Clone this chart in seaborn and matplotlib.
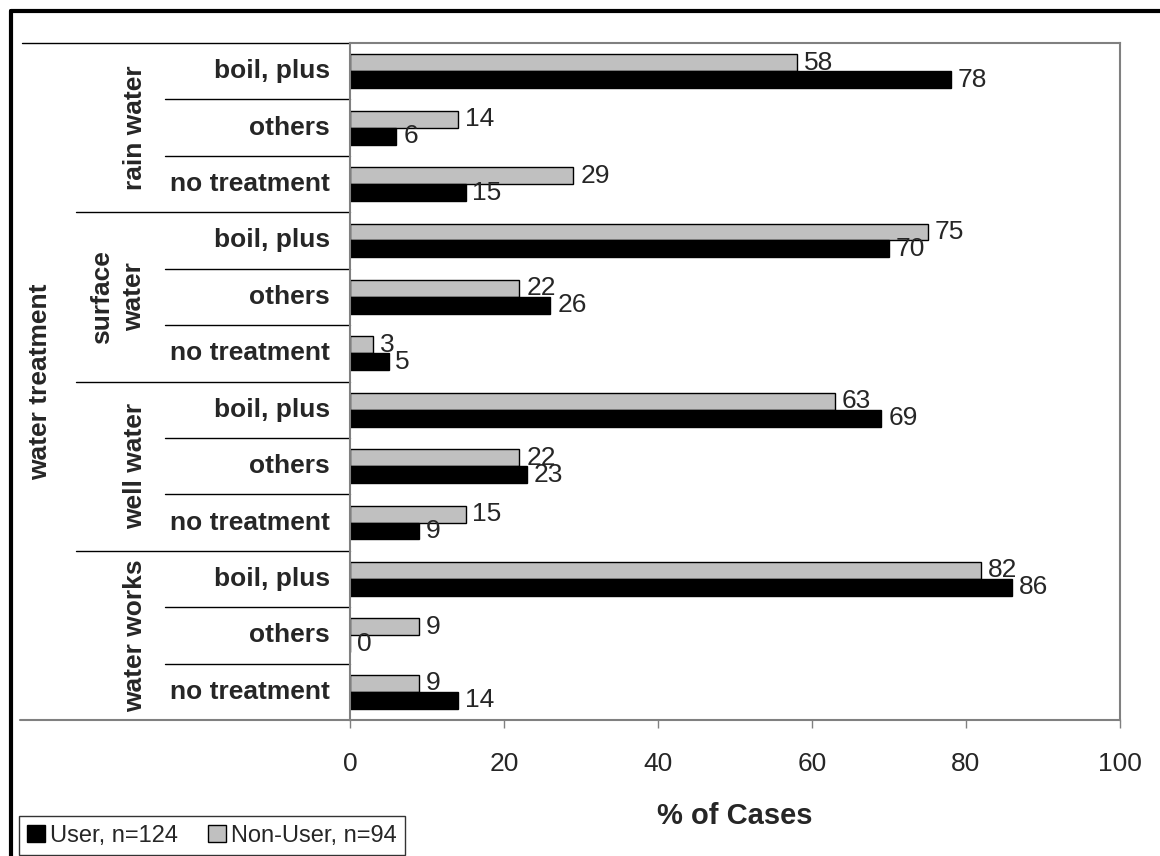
import matplotlib

matplotlib.use("Agg")

import matplotlib.pyplot as plt
import pandas as pd
import seaborn as sns
from matplotlib.lines import Line2D
from matplotlib.patches import Patch
from matplotlib.transforms import blended_transform_factory

# --- data -------------------------------------------------------------------
groups = ["rain water", "surface\nwater", "well water", "water works"]
treatments = ["boil, plus", "others", "no treatment"]
user = [78, 6, 15, 70, 26, 5, 69, 23, 9, 86, 0, 14]
non_user = [58, 14, 29, 75, 22, 3, 63, 22, 15, 82, 9, 9]
series = ["Non-User, n=94", "User, n=124"]
x_ticks = [0, 20, 40, 60, 80, 100]
outer_label = "water treatment"
x_label = "% of Cases"

keys = [f"{g}|{t}" for g in groups for t in treatments]
df = pd.concat(
    [
        pd.DataFrame({"key": keys, "series": series[0], "value": non_user}),
        pd.DataFrame({"key": keys, "series": series[1], "value": user}),
    ],
    ignore_index=True,
)

# --- style ------------------------------------------------------------------
sns.set_style("white")
plt.rcParams["font.family"] = ["Liberation Sans", "DejaVu Sans"]

W, H = 1160, 856
GRAY = "#C0C0C0"
SPINE = "#808080"
FS = 19

fig = plt.figure(figsize=(W / 100, H / 100), dpi=100)
ax_left, ax_right, ax_top, ax_bottom = 350, 1120, 43, 720
ax = fig.add_axes(
    [ax_left / W, 1 - ax_bottom / H, (ax_right - ax_left) / W, (ax_bottom - ax_top) / H]
)

sns.barplot(
    data=df,
    x="value",
    y="key",
    hue="series",
    hue_order=series,
    palette=[GRAY, "black"],
    orient="h",
    width=0.6,
    saturation=1,
    edgecolor="black",
    linewidth=1,
    legend=False,
    ax=ax,
)

for container in ax.containers:
    ax.bar_label(container, fmt="%g", padding=5, fontsize=FS)

ax.set_xlim(0, 100)
ax.set_ylim(len(keys) - 0.5, -0.5)
ax.set_xticks(x_ticks)
ax.tick_params(axis="x", length=6, width=1, color=SPINE, direction="out",
               labelsize=FS, pad=17, bottom=True)
ax.set_yticks([])
ax.set_ylabel("")
for side in ["left", "right", "top", "bottom"]:
    ax.spines[side].set_visible(True)
    ax.spines[side].set_color(SPINE)
    ax.spines[side].set_linewidth(1.5)

ax.set_xlabel(x_label, fontsize=21, fontweight="bold")
ax.xaxis.set_label_coords(0.5, -(816 - ax_bottom) / (ax_bottom - ax_top))
ax.xaxis.label.set_va("center")

# --- multi-level category labels ---------------------------------------------
trans = blended_transform_factory(fig.transFigure, ax.transData)


def hline(x0_px, y, color="black", lw=1.0):
    ax.add_line(Line2D([x0_px / W, ax_left / W], [y, y], transform=trans,
                       color=color, lw=lw, clip_on=False))


n_t = len(treatments)
for gi, g in enumerate(groups):
    for ti, t in enumerate(treatments):
        idx = gi * n_t + ti
        ax.text(330 / W, idx, t, transform=trans, ha="right", va="center",
                fontsize=FS, fontweight="bold")
        if ti > 0:
            hline(165, idx - 0.5)
    gx = 135 if "\n" not in g else 118
    ax.text(gx / W, gi * n_t + (n_t - 1) / 2, g, transform=trans, rotation=90,
            ha="center", va="center", fontsize=FS, fontweight="bold",
            linespacing=1.45)
    if gi > 0:
        hline(76, gi * n_t - 0.5)
hline(22, -0.5)
hline(20, len(keys) - 0.5, color=SPINE, lw=1.5)
ax.text(40 / W, (len(keys) - 1) / 2, outer_label, transform=trans, rotation=90,
        ha="center", va="center", fontsize=FS, fontweight="bold")

# --- legend -----------------------------------------------------------------
handles = [
    Patch(facecolor="black", edgecolor="black", label=series[1]),
    Patch(facecolor=GRAY, edgecolor="black", label=series[0]),
]
leg = fig.legend(
    handles=handles,
    loc="lower left",
    bbox_to_anchor=(19 / W, 1 - 855 / H),
    ncol=2,
    frameon=True,
    fancybox=False,
    fontsize=17,
    handlelength=0.75,
    handleheight=0.75,
    handletextpad=0.2,
    columnspacing=1.3,
    borderpad=0.35,
    borderaxespad=0,
)
leg.get_frame().set_edgecolor("black")
leg.get_frame().set_linewidth(1)

# outer chart border (runs off the right and bottom edges)
fig.add_artist(Line2D([10.5 / W, 10.5 / W], [1 - 11 / H, -0.1], color="black",
                      lw=3, transform=fig.transFigure))
fig.add_artist(Line2D([10.5 / W, 1.1], [1 - 11 / H, 1 - 11 / H], color="black",
                      lw=3, transform=fig.transFigure))

fig.savefig("out.png", dpi=100)
